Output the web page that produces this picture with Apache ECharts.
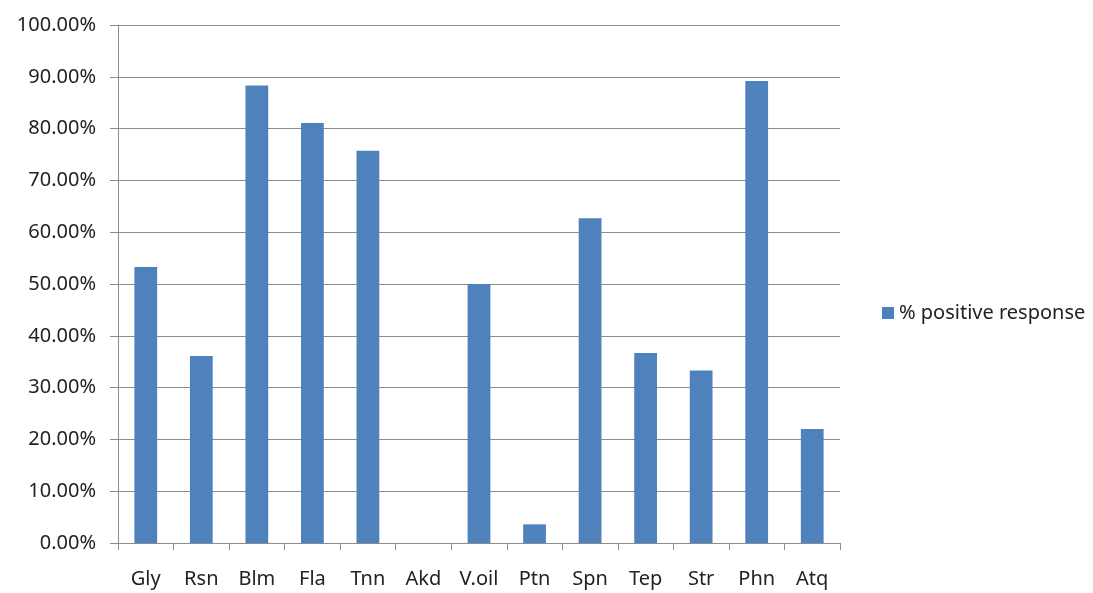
<!DOCTYPE html>
<html>
<head>
<meta charset="utf-8">
<script src="https://cdn.jsdelivr.net/npm/echarts@6/dist/echarts.min.js"></script>
<style>
  html, body { margin: 0; padding: 0; background: #fff; }
  #chart { width: 1093px; height: 593px; }
</style>
</head>
<body>
<div id="chart"></div>
<script>
// categories and values
var categories = ['Gly', 'Rsn', 'Blm', 'Fla', 'Tnn', 'Akd', 'V.oil', 'Ptn', 'Spn', 'Tep', 'Str', 'Phn', 'Atq'];
var positive = [53.3, 36.1, 88.3, 81.1, 75.7, 0, 50.0, 3.6, 62.7, 36.7, 33.3, 89.2, 22.0];
var seriesName = '% positive response';

var gray = '#8c8c8c';
var font = 'Noto Sans';

var myChart = echarts.init(document.getElementById('chart'));
myChart.setOption({
  animation: false,
  textStyle: { fontFamily: font },
  grid: { left: 118, right: 253, top: 25, bottom: 50 },
  legend: {
    data: [seriesName],
    orient: 'vertical',
    left: 877,
    top: 298,
    itemWidth: 12,
    itemHeight: 12,
    itemGap: 6,
    icon: 'rect',
    textStyle: { fontSize: 20, color: '#222', fontFamily: font }
  },
  xAxis: {
    type: 'category',
    data: categories,
    axisLine: { lineStyle: { color: gray, width: 1 } },
    axisTick: { show: true, length: 7, lineStyle: { color: gray } },
    axisLabel: { fontSize: 20, color: '#222', margin: 26, fontFamily: font }
  },
  yAxis: {
    type: 'value',
    min: 0,
    max: 100,
    interval: 10,
    axisLine: { show: true, lineStyle: { color: gray, width: 1 } },
    axisTick: { show: true, length: 8, lineStyle: { color: gray } },
    splitLine: { lineStyle: { color: gray, width: 1 } },
    axisLabel: {
      fontSize: 20,
      color: '#222',
      margin: 22,
      fontFamily: font,
      formatter: function (v) { return v.toFixed(2) + '%'; }
    }
  },
  series: [{
    name: seriesName,
    type: 'bar',
    data: positive,
    barWidth: '41%',
    itemStyle: { color: '#4f81bd' }
  }]
});
</script>
</body>
</html>
